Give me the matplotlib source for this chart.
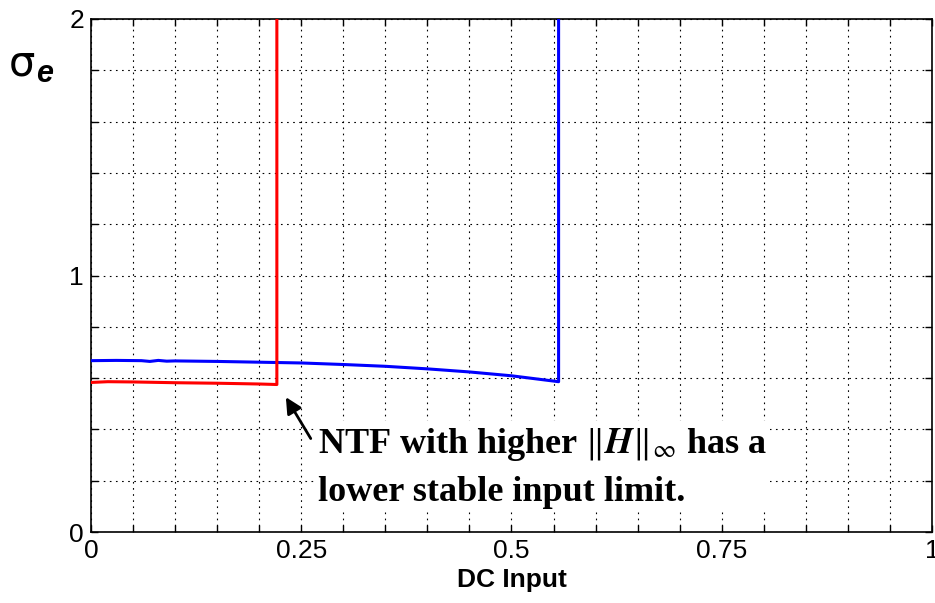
import numpy as np
import matplotlib
matplotlib.use('Agg')
import matplotlib.pyplot as plt

dc_blue = [0.0, 0.03, 0.06, 0.07, 0.08, 0.09, 0.10, 0.15, 0.20, 0.25, 0.30, 0.35, 0.40, 0.45, 0.50, 0.556, 0.556]
sig_blue = [0.668, 0.669, 0.668, 0.665, 0.669, 0.666, 0.667, 0.665, 0.662, 0.659, 0.653, 0.646, 0.636, 0.624, 0.609, 0.586, 2.0]
dc_red = [0.0, 0.02, 0.05, 0.10, 0.15, 0.20, 0.221, 0.221]
sig_red = [0.583, 0.586, 0.585, 0.582, 0.580, 0.577, 0.575, 2.0]

xticks = np.arange(0, 1.0001, 0.05)
yticks = np.arange(0, 2.0001, 0.2)
xlabels = {0.0: '0', 0.25: '0.25', 0.5: '0.5', 0.75: '0.75', 1.0: '1'}
ylabels = {0.0: '0', 1.0: '1', 2.0: '2'}

plt.rcParams['mathtext.fontset'] = 'stix'
fig = plt.figure(figsize=(9.35, 6.03), dpi=100)
ax = fig.add_axes([91/935, 1 - 532/603, 841/935, 513/603])

ax.plot(dc_blue, sig_blue, color='#0000ff', lw=2.2, zorder=3)
ax.plot(dc_red, sig_red, color='#ff0000', lw=2.2, zorder=3)

ax.set_xlim(0, 1); ax.set_ylim(0, 2)
ax.set_xticks(xticks)
ax.set_xticklabels([xlabels.get(round(t, 2), '') for t in xticks])
ax.set_yticks(yticks)
ax.set_yticklabels([ylabels.get(round(t, 1), '') for t in yticks])
ax.tick_params(direction='in', top=True, right=True, length=5, width=1, labelsize=19,
               pad=5)
for lab in ax.get_xticklabels() + ax.get_yticklabels():
    lab.set_fontfamily('Liberation Sans')
ax.grid(True, color='black', ls=(0, (1.5, 4)), lw=0.8)
for s in ax.spines.values():
    s.set_linewidth(1.2)

ax.set_xlabel('DC Input', fontsize=19, fontweight='bold', family='Liberation Sans', labelpad=4)
fig.text(9/935, 1 - 64/603, '\u03c3', fontsize=30, family='DejaVu Sans', va='center')
fig.text(36/935, 1 - 74/603, 'e', fontsize=22, family='Liberation Sans',
         fontweight='bold', style='italic', va='center')

ax.annotate('', xy=(0.230, 0.535), xytext=(0.263, 0.355),
            arrowprops=dict(arrowstyle='-|>', color='black', lw=2, mutation_scale=24))
ax.text(0.270, 0.250, 'NTF with higher $\\Vert \\boldsymbol{H}\\Vert_\\infty$ has a\nlower stable input limit.',
        fontsize=26, family='Liberation Serif', fontweight='bold', va='center',
        linespacing=1.52, zorder=4,
        bbox=dict(facecolor='white', edgecolor='none', pad=2))

fig.savefig('out.png', dpi=100)
